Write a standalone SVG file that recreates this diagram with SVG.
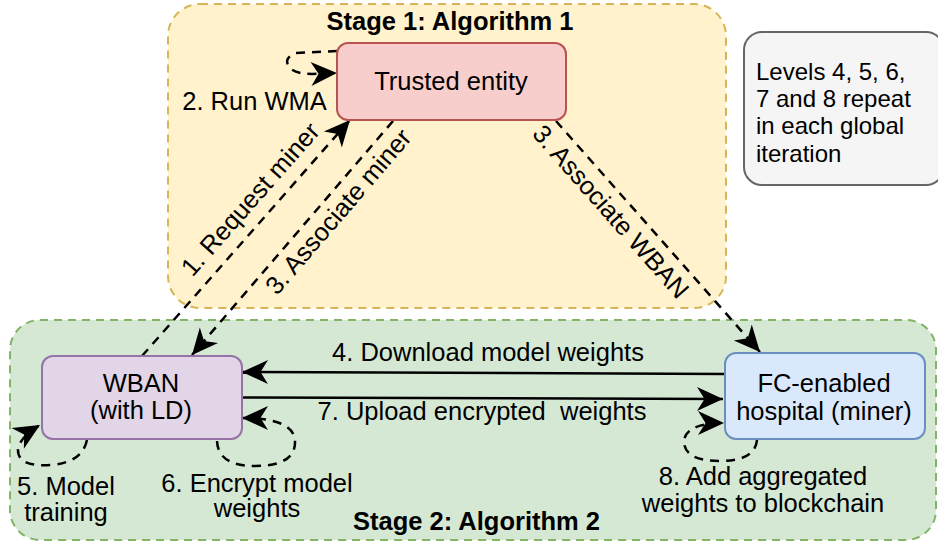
<svg xmlns="http://www.w3.org/2000/svg" width="938" height="545" viewBox="0 0 938 545">
<style>
text{font-family:"Liberation Sans",Arial,Helvetica,sans-serif;font-size:25.5px;fill:#000;}
.c{text-anchor:middle;}
.b{font-weight:bold;}
.pre{white-space:pre;}
.n{font-size:24px;}
.stage1{fill:#fff2cc;stroke:#d6b656;stroke-width:2;stroke-dasharray:8 6;}
.stage2{fill:#d5e8d4;stroke:#82b366;stroke-width:2;stroke-dasharray:8 6;}
.red{fill:#f8cecc;stroke:#b85450;stroke-width:2;}
.purple{fill:#e1d5e7;stroke:#9673a6;stroke-width:2;}
.blue{fill:#dae8fc;stroke:#6c8ebf;stroke-width:2;}
.note{fill:#f5f5f5;stroke:#666666;stroke-width:2;}
.ln{fill:none;stroke:#000;stroke-width:2.5;}
.dash{stroke-dasharray:9 7;}
</style>
<defs>
<marker id="arr" markerUnits="userSpaceOnUse" viewBox="0 0 28 26" markerWidth="28" markerHeight="26" refX="27" refY="13" orient="auto">
<path d="M27,13 L1,1 L8.5,13 L1,25 Z" fill="#000"/>
</marker>
</defs>

<g id="stage1">
<rect class="stage1" x="168" y="4" width="558" height="304" rx="32" ry="32"/>
<text class="c b" x="450" y="29.5">Stage 1: Algorithm 1</text>
</g>
<g id="stage2">
<rect class="stage2" x="10" y="320" width="926" height="220" rx="30" ry="30"/>
<text class="c b" x="476.5" y="530">Stage 2: Algorithm 2</text>
</g>

<g id="note">
<rect class="note" x="744" y="32" width="200" height="153" rx="18" ry="18"/>
<text class="n" x="756" y="79.5">Levels 4, 5, 6,</text>
<text class="n" x="756" y="107">7 and 8 repeat</text>
<text class="n" x="756" y="134">in each global</text>
<text class="n" x="756" y="161.5">iteration</text>
</g>

<g id="connectors">
<path class="ln dash" d="M142,356 L350,120" marker-end="url(#arr)"/>
<path class="ln dash" d="M393,121 L192,355" marker-end="url(#arr)"/>
<path class="ln dash" d="M556,121 L760,352" marker-end="url(#arr)"/>
<path class="ln" d="M725,374 L242,372" marker-end="url(#arr)"/>
<path class="ln" d="M242,397.5 L723,399" marker-end="url(#arr)"/>
<path class="ln dash" d="M337,51 L296,53 Q283,58 289,67 Q295,74 312,74 L337,73" marker-end="url(#arr)"/>
<path class="ln dash" d="M87,440 Q82,463 50,465 Q17,467 18,449 Q20,437 40,425" marker-end="url(#arr)"/>
<path class="ln dash" d="M217,441 Q218,466 255,466 Q296,466 295,441 Q294,418 242,418" marker-end="url(#arr)"/>
<path class="ln dash" d="M757,440 Q755,461 720,461 Q684,461 684,441 Q686,423 724,423" marker-end="url(#arr)"/>
</g>

<g id="edge-labels">
<text class="c" transform="translate(250,199) rotate(-48.5)" x="0" y="9">1. Request miner</text>
<text class="c" transform="translate(338,211.5) rotate(-49.3)" x="0" y="9">3. Associate miner</text>
<text class="c" transform="translate(611,211.5) rotate(48.6)" x="0" y="9">3. Associate WBAN</text>
<text class="c" x="254.5" y="110">2. Run WMA</text>
<text class="c" x="488" y="361">4. Download model weights</text>
<text class="c pre" x="482" y="420">7. Upload encrypted  weights</text>
<text class="c" x="66" y="495">5. Model</text>
<text class="c" x="66" y="521">training</text>
<text class="c" x="257" y="491.5">6. Encrypt model</text>
<text class="c" x="257" y="517">weights</text>
<text class="c" x="763" y="485">8. Add aggregated</text>
<text class="c" x="763" y="512">weights to blockchain</text>
</g>

<g id="trusted">
<rect class="red" x="337" y="43" width="229" height="77" rx="11" ry="11"/>
<text class="c" x="451" y="90">Trusted entity</text>
</g>
<g id="wban">
<rect class="purple" x="42" y="356" width="200" height="83" rx="11" ry="11"/>
<text class="c" x="141" y="391.5">WBAN</text>
<text class="c" x="141" y="419">(with LD)</text>
</g>
<g id="hospital">
<rect class="blue" x="725" y="353" width="200" height="86" rx="11" ry="11"/>
<text class="c" x="824" y="391.5">FC-enabled</text>
<text class="c" x="824" y="420">hospital (miner)</text>
</g>
</svg>
